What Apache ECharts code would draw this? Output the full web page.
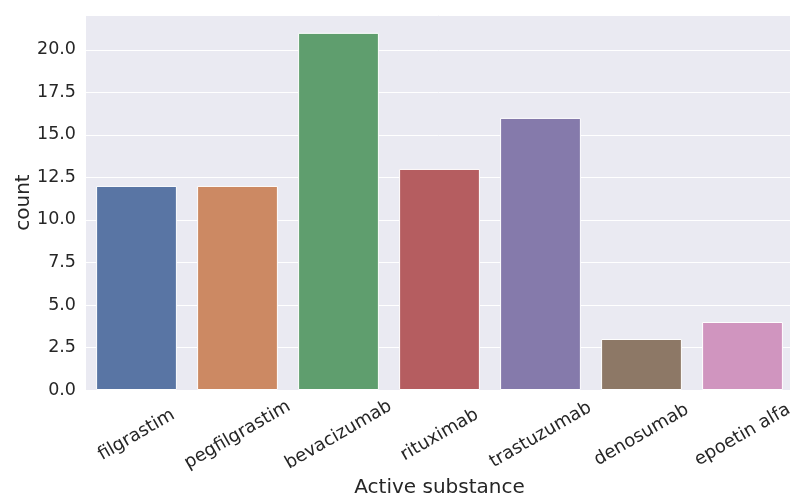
<!DOCTYPE html>
<html><head><meta charset="utf-8">
<script src="https://cdn.jsdelivr.net/npm/echarts@6/dist/echarts.min.js"></script>
<style>html,body{margin:0;padding:0;background:#fff}#c{width:790px;height:497px}</style>
</head><body><div id="c"></div>
<script>
const categories = ["filgrastim","pegfilgrastim","bevacizumab","rituximab","trastuzumab","denosumab","epoetin alfa"];
const counts = [12, 12, 21, 13, 16, 3, 4];
const colors = ["#5975a4","#cc8963","#5f9e6e","#b55d60","#857aab","#8d7866","#d095bf"];
const yTicks = [0, 2.5, 5, 7.5, 10, 12.5, 15, 17.5, 20];

const chart = echarts.init(document.getElementById('c'), null, {renderer:'canvas'});
chart.setOption({
  animation:false,
  backgroundColor:'#ffffff',
  grid:{left:86, top:15, width:707, height:375, containLabel:false, outerBoundsMode:'none', show:true, backgroundColor:'#eaeaf2', borderWidth:0},
  xAxis:{
    type:'category', data:categories,
    axisLine:{show:false}, axisTick:{show:false}, splitLine:{show:false},
    axisLabel:{rotate:30, align:'center', verticalAlign:'middle', margin:45, color:'#262626', fontSize:18, fontFamily:'DejaVu Sans', hideOverlap:false, interval:0},
    name:'Active substance', nameLocation:'middle', nameGap:88, nameMoveOverlap:false,
    nameTextStyle:{color:'#262626', fontSize:20, fontFamily:'DejaVu Sans'}
  },
  yAxis:{
    type:'value', min:0, max:22.05, interval:2.5,
    axisLine:{show:false}, axisTick:{show:false},
    splitLine:{show:true, lineStyle:{color:'#ffffff', width:1}},
    axisLabel:{showMaxLabel:false, margin:10, padding:[3,0,0,0], color:'#262626', fontSize:17.5, fontFamily:'DejaVu Sans',
      formatter:function(v){ return yTicks.indexOf(v)>=0 ? v.toFixed(1) : ''; }},
    name:'count', nameLocation:'middle', nameGap:52, nameMoveOverlap:false,
    nameTextStyle:{color:'#262626', fontSize:20, fontFamily:'DejaVu Sans'}
  },
  series:[{
    type:'bar', barWidth:'80%',
    data: counts.map((v,i)=>({value:v, itemStyle:{color:colors[i]}})),
    itemStyle:{borderColor:'#ffffff', borderWidth:1}
  }]
});
</script></body></html>
